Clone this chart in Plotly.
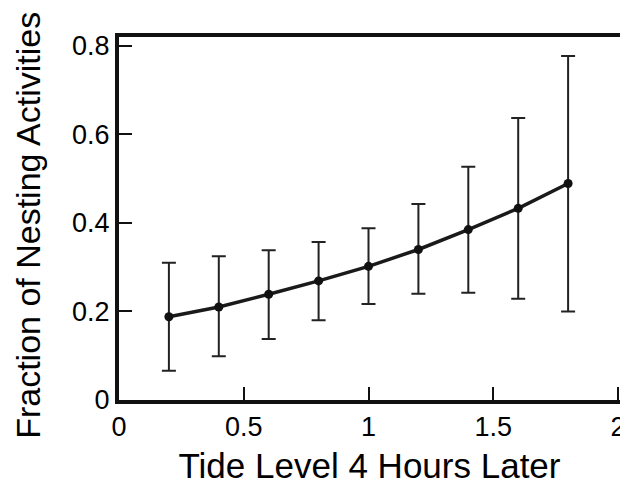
import plotly.graph_objects as go

tide_level = [0.2, 0.4, 0.6, 0.8, 1.0, 1.2, 1.4, 1.6, 1.8]
fraction_mean = [0.188, 0.210, 0.239, 0.269, 0.302, 0.340, 0.385, 0.433, 0.489]
fraction_upper = [0.310, 0.325, 0.338, 0.357, 0.388, 0.443, 0.527, 0.637, 0.777]
fraction_lower = [0.066, 0.099, 0.138, 0.180, 0.217, 0.240, 0.242, 0.229, 0.200]

x_ticks = [0, 0.5, 1, 1.5, 2]
x_tick_labels = ["0", "0.5", "1", "1.5", "2"]
y_ticks = [0, 0.2, 0.4, 0.6, 0.8]
y_tick_labels = ["0", "0.2", "0.4", "0.6", "0.8"]

x_title = "Tide Level 4 Hours Later"
y_title = "Fraction of Nesting Activities"

err_plus = [u - m for u, m in zip(fraction_upper, fraction_mean)]
err_minus = [m - l for m, l in zip(fraction_mean, fraction_lower)]

FONT = "Liberation Sans, Arial, sans-serif"

fig = go.Figure()
fig.add_trace(go.Scatter(
    x=tide_level, y=fraction_mean,
    mode="lines+markers",
    line=dict(color="#1a1a1a", width=3.5),
    marker=dict(color="#111111", size=9),
    error_y=dict(type="data", symmetric=False, array=err_plus, arrayminus=err_minus,
                 color="#222222", thickness=2, width=7),
    showlegend=False,
))

fig.update_layout(
    width=620, height=485,
    margin=dict(l=119, r=0, t=37, b=85),
    paper_bgcolor="white", plot_bgcolor="white",
    font=dict(family=FONT, color="black"),
    annotations=[dict(
        text=y_title, textangle=-90,
        xref="paper", yref="paper", x=-0.182, y=0.482,
        xanchor="center", yanchor="middle", showarrow=False,
        font=dict(size=34, family=FONT, color="black"),
    )],
)
fig.update_xaxes(
    range=[0, 2.008],
    tickmode="array", tickvals=x_ticks, ticktext=x_tick_labels,
    ticks="inside", ticklen=13, tickwidth=2, tickcolor="#111111",
    showline=True, linewidth=4, linecolor="#111111", mirror=True,
    showgrid=False, zeroline=False,
    tickfont=dict(size=27, family=FONT, color="black"),
    ticklabeloverflow="allow",
    title=dict(text=x_title, font=dict(size=35, family=FONT, color="black"), standoff=15),
    automargin=False,
)
fig.update_yaxes(
    range=[0, 0.82],
    tickmode="array", tickvals=y_ticks, ticktext=y_tick_labels,
    ticks="inside", ticklen=13, tickwidth=2, tickcolor="#111111",
    showline=True, linewidth=4, linecolor="#111111", mirror=False,
    showgrid=False, zeroline=False,
    tickfont=dict(size=27, family=FONT, color="black"),
    automargin=False,
)

fig.write_html("out.html")
